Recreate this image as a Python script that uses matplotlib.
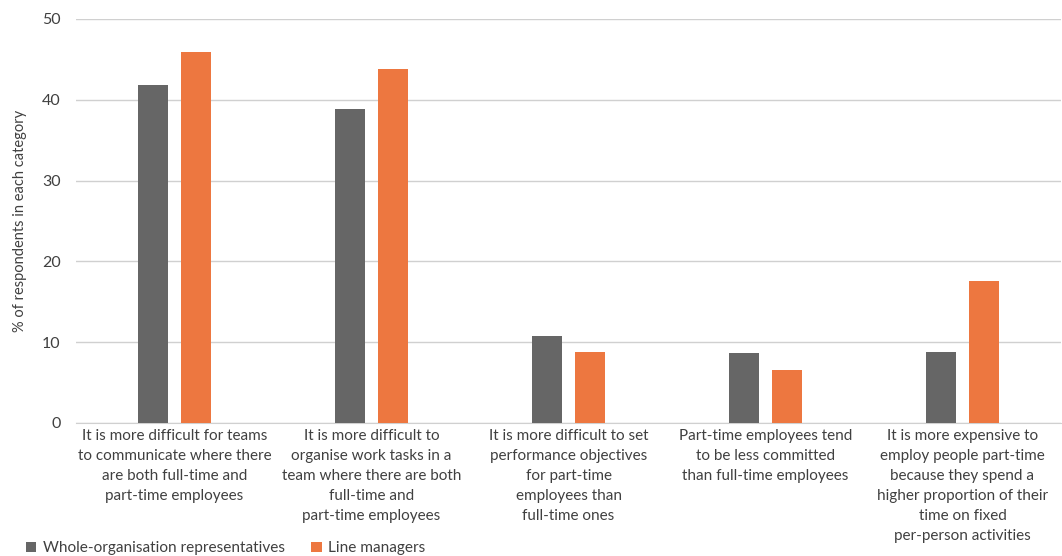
import matplotlib
matplotlib.use("Agg")
import matplotlib.pyplot as plt
import numpy as np

categories = [
    "It is more difficult for teams\nto communicate where there\nare both full-time and\npart-time employees",
    "It is more difficult to\norganise work tasks in a\nteam where there are both\nfull-time and\npart-time employees",
    "It is more difficult to set\nperformance objectives\nfor part-time\nemployees than\nfull-time ones",
    "Part-time employees tend\nto be less committed\nthan full-time employees",
    "It is more expensive to\nemploy people part-time\nbecause they spend a\nhigher proportion of their\ntime on fixed\nper-person activities",
]
whole_org = [41.8, 38.9, 10.8, 8.7, 8.8]
line_managers = [45.9, 43.8, 8.8, 6.6, 17.6]
yticks = [0, 10, 20, 30, 40, 50]

GRAY = "#666666"
ORANGE = "#ED7740"
TEXT = "#404040"

plt.rcParams['font.family'] = ['Lato', 'DejaVu Sans']

fig = plt.figure(figsize=(10.62, 5.56), dpi=100)
ax = fig.add_axes([76/1062, 1-423/556, 985/1062, 404/556])

x = np.arange(len(categories))
w = 0.152
off = 0.109
ax.bar(x - off, whole_org, width=w, color=GRAY, label="Whole-organisation representatives", zorder=3)
ax.bar(x + off, line_managers, width=w, color=ORANGE, label="Line managers", zorder=3)

ax.set_xlim(-0.5, len(categories) - 0.5)
ax.set_ylim(0, 50)
ax.set_yticks(yticks)
ax.set_yticklabels([str(t) for t in yticks], fontsize=11.5, color=TEXT)
ax.yaxis.grid(True, color="#d0d0d0", linewidth=1, zorder=0)
for s in ["top", "right", "left"]:
    ax.spines[s].set_visible(False)
ax.spines["bottom"].set_color("#d0d0d0")
ax.tick_params(axis="y", length=0, pad=11)
ax.tick_params(axis="x", length=0, pad=4)
ax.set_xticks(x)
ax.set_xticklabels(categories, fontsize=11, color=TEXT, linespacing=1.56, va="top")
ax.set_ylabel("% of respondents in each category", fontsize=10.5, color=TEXT, labelpad=11)

leg = fig.legend(loc="lower left", bbox_to_anchor=(0.011, -0.024), ncol=2, frameon=False,
                 fontsize=11.1, handlelength=0.65, handleheight=0.65, handletextpad=0.45,
                 columnspacing=1.75)
for t in leg.get_texts():
    t.set_color(TEXT)

fig.savefig("out.png", dpi=100)
